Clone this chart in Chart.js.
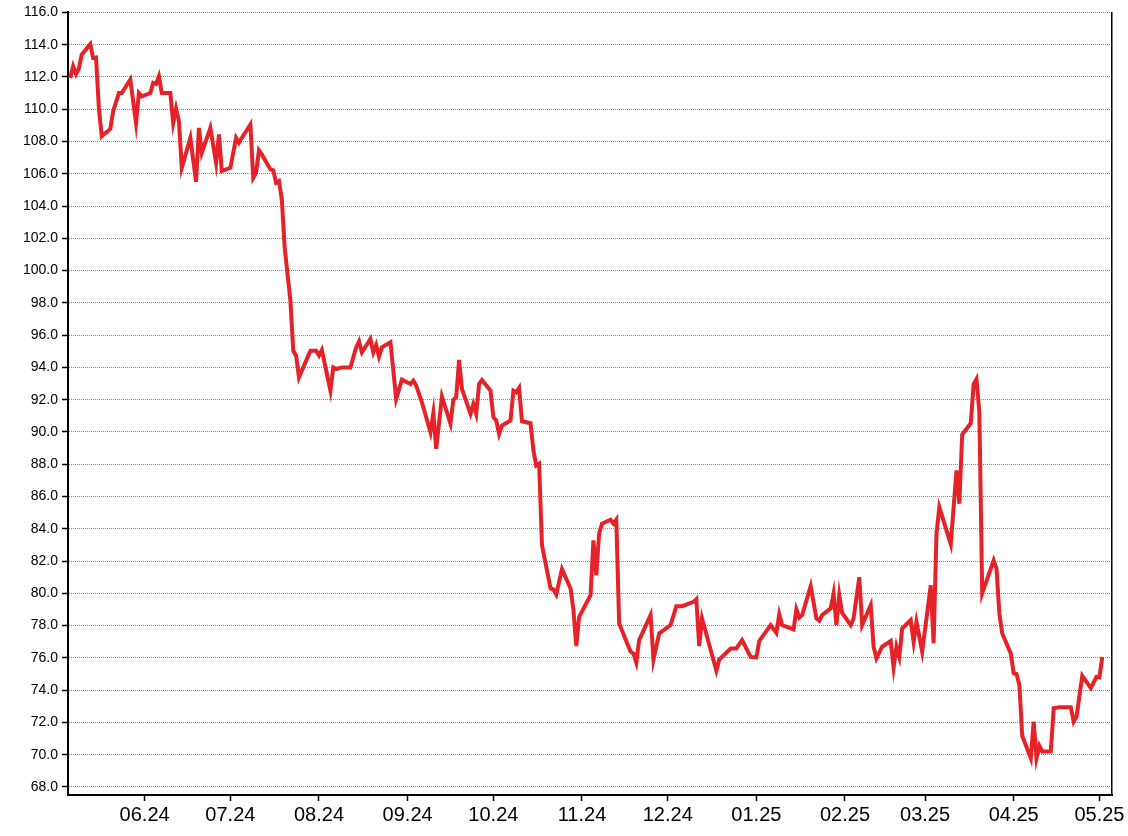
<!DOCTYPE html>
<html>
<head>
<meta charset="utf-8">
<script src="https://cdn.jsdelivr.net/npm/chart.js@4"></script>
<style>
body{margin:0;background:#fff}
</style>
</head>
<body>
<canvas id="chart" width="1128" height="836"></canvas>
<script>
const dates=[
 "2024-05-06","2024-05-07","2024-05-08","2024-05-09","2024-05-10","2024-05-13","2024-05-14","2024-05-15","2024-05-16","2024-05-17","2024-05-20","2024-05-21","2024-05-23","2024-05-24","2024-05-27","2024-05-29","2024-05-30","2024-05-31",
 "2024-06-03","2024-06-04","2024-06-05","2024-06-06","2024-06-07","2024-06-10","2024-06-11","2024-06-12","2024-06-13","2024-06-14","2024-06-17","2024-06-19","2024-06-20","2024-06-21","2024-06-24","2024-06-26","2024-06-27","2024-06-28",
 "2024-07-01","2024-07-03","2024-07-04","2024-07-05","2024-07-08","2024-07-09","2024-07-10","2024-07-11","2024-07-12","2024-07-15","2024-07-16","2024-07-17","2024-07-18","2024-07-19","2024-07-20","2024-07-22","2024-07-23","2024-07-24","2024-07-25","2024-07-29","2024-07-31",
 "2024-08-01","2024-08-02","2024-08-05","2024-08-06","2024-08-07","2024-08-09","2024-08-12","2024-08-14","2024-08-15","2024-08-16","2024-08-19","2024-08-20","2024-08-21","2024-08-22","2024-08-23","2024-08-26","2024-08-28","2024-08-30",
 "2024-09-02","2024-09-03","2024-09-04","2024-09-06","2024-09-09","2024-09-10","2024-09-11","2024-09-13","2024-09-16","2024-09-17","2024-09-18","2024-09-19","2024-09-20","2024-09-23","2024-09-24","2024-09-25","2024-09-26","2024-09-27","2024-09-30",
 "2024-10-01","2024-10-02","2024-10-03","2024-10-04","2024-10-07","2024-10-08","2024-10-09","2024-10-10","2024-10-11","2024-10-14","2024-10-15","2024-10-16","2024-10-17","2024-10-18","2024-10-21","2024-10-22","2024-10-23","2024-10-25","2024-10-28","2024-10-29","2024-10-30","2024-10-31",
 "2024-11-04","2024-11-05","2024-11-06","2024-11-07","2024-11-08","2024-11-11","2024-11-12","2024-11-13","2024-11-14","2024-11-18","2024-11-19","2024-11-20","2024-11-21","2024-11-25","2024-11-26","2024-11-28",
 "2024-12-02","2024-12-04","2024-12-06","2024-12-10","2024-12-11","2024-12-12","2024-12-13","2024-12-18","2024-12-19","2024-12-23","2024-12-25","2024-12-27","2024-12-30",
 "2025-01-01","2025-01-02","2025-01-06","2025-01-08","2025-01-09","2025-01-10","2025-01-14","2025-01-15","2025-01-16","2025-01-17","2025-01-20","2025-01-22","2025-01-23","2025-01-24","2025-01-27","2025-01-28","2025-01-29","2025-01-30","2025-01-31",
 "2025-02-03","2025-02-04","2025-02-06","2025-02-07","2025-02-10","2025-02-11","2025-02-12","2025-02-14","2025-02-17","2025-02-18","2025-02-19","2025-02-20","2025-02-21","2025-02-24","2025-02-25","2025-02-26","2025-02-28",
 "2025-03-03","2025-03-04","2025-03-05","2025-03-06","2025-03-10","2025-03-12","2025-03-13","2025-03-14","2025-03-17","2025-03-18","2025-03-19","2025-03-20","2025-03-21","2025-03-25","2025-03-26","2025-03-27","2025-03-28","2025-03-31",
 "2025-04-01","2025-04-02","2025-04-03","2025-04-04","2025-04-07","2025-04-08","2025-04-09","2025-04-10","2025-04-11","2025-04-14","2025-04-15","2025-04-17","2025-04-21","2025-04-22","2025-04-23","2025-04-25","2025-04-28","2025-04-30",
 "2025-05-01","2025-05-02"
];
const values=[
 111.94,112.66,112.18,112.52,113.38,114.04,113.17,113.2,110.08,108.33,108.78,109.88,111.0,111.0,111.84,109.15,111.0,110.8,
 111.0,111.63,111.57,112.04,111.0,111.0,109.15,110.04,109.26,106.37,108.22,105.5,108.84,107.3,108.84,106.68,108.44,106.17,
 106.37,108.22,107.92,108.22,109.05,105.75,106.06,107.45,107.2,106.27,106.21,105.44,105.55,104.41,101.42,98.13,95.03,94.73,93.38,95.03,95.03,
 94.73,95.08,92.56,94.0,93.9,94.0,94.0,95.24,95.61,94.93,95.76,94.93,95.39,94.66,95.24,95.55,92.05,93.24,
 92.97,93.18,92.87,91.84,89.98,91.16,88.96,92.19,90.5,91.99,92.15,94.46,92.67,91.12,91.73,91.12,92.97,93.22,92.56,
 90.91,90.71,89.88,90.4,90.71,92.56,92.46,92.73,90.66,90.54,88.85,87.92,88.03,82.98,80.3,80.24,79.93,81.5,80.3,78.96,76.73,78.54,
 79.88,83.28,81.12,83.7,84.32,84.56,84.32,84.56,78.13,76.38,76.27,75.7,77.1,78.65,75.89,77.51,
 78.03,79.2,79.2,79.47,79.64,76.73,78.44,75.2,75.9,76.58,76.58,77.1,76.06,
 76.03,77.04,78.03,77.55,78.7,78.03,77.76,79.0,78.5,78.65,80.44,78.44,78.3,78.65,79.07,79.99,78.03,79.88,78.79,
 78.03,78.44,81.0,78.03,79.27,76.69,75.97,76.69,77.04,75.41,76.69,76.06,77.82,78.34,77.0,78.23,76.38,
 80.5,76.9,83.7,85.34,83.04,87.61,85.55,89.84,90.54,92.97,93.28,91.22,79.99,82.04,81.53,78.75,77.51,76.27,
 75.04,75.0,74.32,71.16,69.78,72.05,69.78,70.55,70.2,70.2,72.88,72.94,72.94,72.05,72.36,74.88,74.12,74.83,
 74.79,76.06
];
const monthTicks=["2024-06-01","2024-07-01","2024-08-01","2024-09-01","2024-10-01","2024-11-01","2024-12-01","2025-01-01","2025-02-01","2025-03-01","2025-04-01","2025-05-01"];
const yTicks=[68,70,72,74,76,78,80,82,84,86,88,90,92,94,96,98,100,102,104,106,108,110,112,114,116];

function day(s){let p=s.split("-");return Date.UTC(+p[0],p[1]-1,+p[2])/864e5}
const jun1=day("2024-06-01");
const pts=dates.map((d,i)=>({x:day(d),y:values[i]}));

new Chart(document.getElementById("chart"),{
 type:"line",
 data:{datasets:[{data:pts,borderColor:"#e52228",borderWidth:4,pointRadius:0,tension:0,fill:false}]},
 options:{
  responsive:false,animation:false,
  layout:{padding:{top:11,left:0,right:0,bottom:0}},
  plugins:{legend:{display:false},tooltip:{enabled:false}},
  scales:{
   x:{type:"linear",min:jun1-26.8,max:jun1+338.4,
    afterBuildTicks:s=>{s.ticks=monthTicks.map(m=>({value:day(m)}))},
    afterFit:s=>{s.height=41},
    grid:{drawOnChartArea:false,tickLength:6,tickColor:"#000",tickWidth:1.5},
    border:{color:"#000",width:2},
    ticks:{color:"#000",padding:2,maxRotation:0,font:{family:"Liberation Sans",size:20},
     callback:v=>{let d=new Date(v*864e5);return String(d.getUTCMonth()+1).padStart(2,"0")+"."+String(d.getUTCFullYear()).slice(2)}}
   },
   y:{min:67.5,max:116,
    afterBuildTicks:s=>{s.ticks=yTicks.map(v=>({value:v}))},
    afterFit:s=>{s.width=68},
    grid:{color:"#8a8a8a",lineWidth:1,tickLength:6,tickColor:"#000",tickWidth:1.5,tickBorderDash:[]},
    border:{color:"#000",width:2,dash:[1,1]},
    ticks:{color:"#000",padding:4,font:{family:"Liberation Sans",size:14},callback:v=>v.toFixed(1)}
   },
   y2:{position:"right",min:67.5,max:116,
    afterFit:s=>{s.width=16},
    grid:{display:false},ticks:{display:false},
    border:{color:"#000",width:1.5}
   }
  }
 }
});
</script>
</body>
</html>
